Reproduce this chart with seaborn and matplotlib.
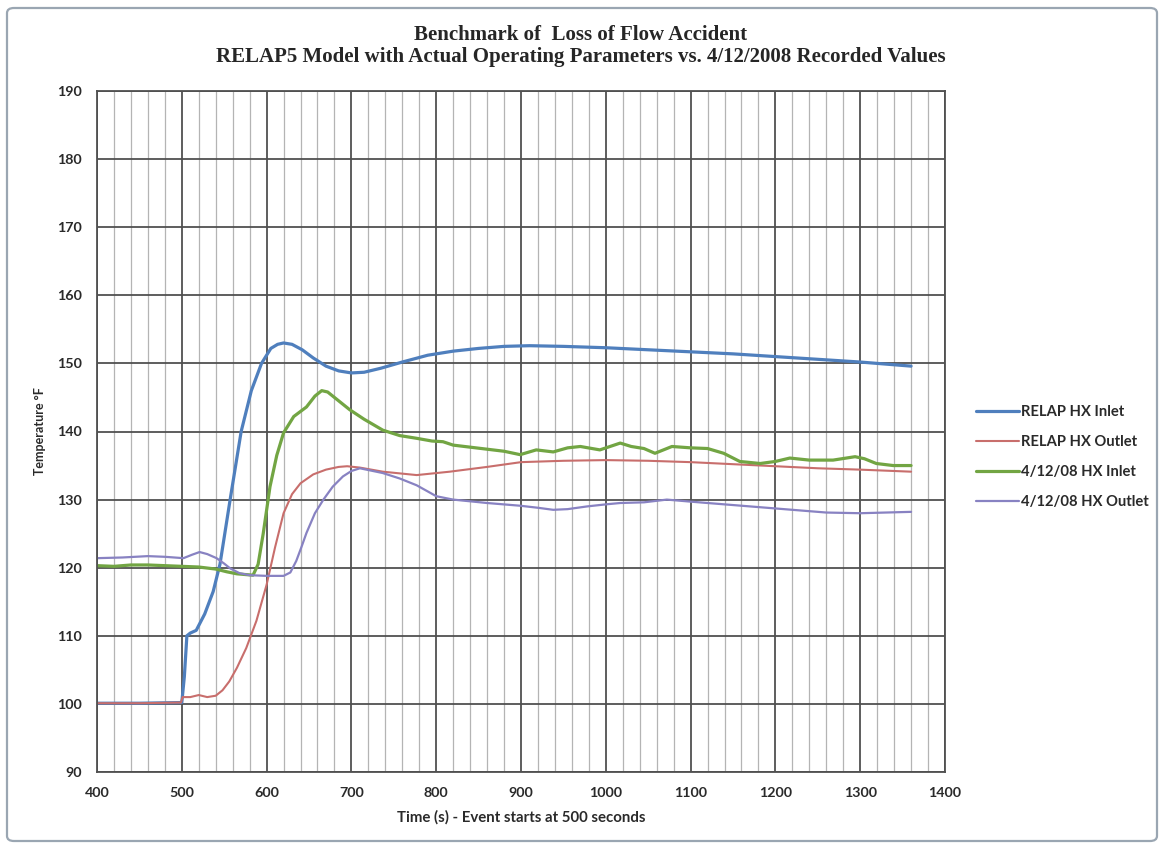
import numpy as np
import pandas as pd
import matplotlib.pyplot as plt
import seaborn as sns
from matplotlib.ticker import MultipleLocator
from matplotlib.patches import FancyBboxPatch

# RELAP HX Inlet
t_blue = [400, 450, 500, 503, 506, 510, 517, 527, 537, 545, 557, 570, 582, 594, 605, 613, 620,
          630, 642, 655, 670, 685, 700, 715, 735, 760, 790, 820, 850, 880, 910, 950, 1000, 1050,
          1100, 1150, 1200, 1250, 1300, 1360]
T_blue = [100.1, 100.1, 100.2, 104, 110, 110.4, 110.8, 113.2, 116.5, 120.5, 130, 140, 146, 150,
          152.2, 152.8, 153, 152.8, 152, 150.8, 149.6, 148.9, 148.6, 148.7, 149.3, 150.2, 151.2,
          151.8, 152.2, 152.5, 152.6, 152.5, 152.3, 152.0, 151.7, 151.4, 151.0, 150.6, 150.2, 149.6]

# RELAP HX Outlet
t_red = [400, 450, 499, 501, 510, 520, 530, 540, 548, 556, 565, 576, 588, 600, 610, 620, 630,
         640, 655, 670, 685, 695, 710, 737, 777, 816, 860, 900, 950, 1000, 1050, 1100, 1150,
         1200, 1250, 1300, 1360]
T_red = [100.1, 100.1, 100.2, 101.0, 101.0, 101.3, 101.0, 101.2, 102.0, 103.3, 105.3, 108.2,
         112.2, 117.5, 123.0, 128.0, 130.8, 132.4, 133.7, 134.4, 134.8, 134.9, 134.7, 134.1,
         133.6, 134.1, 134.8, 135.5, 135.7, 135.8, 135.7, 135.5, 135.2, 134.9, 134.6, 134.4, 134.1]

# 4/12/08 HX Inlet
t_green = [400, 420, 440, 460, 480, 500, 520, 540, 553, 565, 584, 590, 596, 604, 612, 620, 632,
           647, 657, 665, 672, 685, 698, 715, 737, 757, 777, 795, 808, 820, 840, 860, 880, 899,
           918, 938, 955, 970, 993, 1017, 1030, 1045, 1058, 1078, 1100, 1120, 1139, 1158, 1182,
           1200, 1217, 1240, 1268, 1294, 1305, 1319, 1339, 1360]
T_green = [120.3, 120.2, 120.4, 120.4, 120.3, 120.2, 120.1, 119.8, 119.4, 119.1, 118.9, 120.5,
           125, 131.9, 136.5, 139.8, 142.2, 143.6, 145.2, 146.0, 145.8, 144.5, 143.2, 141.8,
           140.2, 139.4, 139.0, 138.6, 138.5, 138.0, 137.7, 137.4, 137.1, 136.6, 137.3, 137.0,
           137.6, 137.8, 137.3, 138.3, 137.8, 137.5, 136.8, 137.8, 137.6, 137.5, 136.8, 135.6,
           135.3, 135.6, 136.1, 135.8, 135.8, 136.3, 136.0, 135.3, 135.0, 135.0]

# 4/12/08 HX Outlet
t_purple = [400, 430, 460, 480, 502, 512, 521, 530, 541, 550, 557, 568, 580, 600, 620, 628, 635,
            641, 647, 657, 667, 678, 690, 700, 710, 737, 757, 777, 790, 800, 820, 860, 899, 920,
            938, 955, 978, 1000, 1017, 1045, 1072, 1100, 1150, 1200, 1230, 1260, 1300, 1360]
T_purple = [121.4, 121.5, 121.7, 121.6, 121.4, 121.9, 122.3, 122.0, 121.4, 120.6, 119.9, 119.2,
            118.9, 118.8, 118.8, 119.3, 121.0, 123.0, 125.1, 128.0, 130.0, 131.9, 133.4, 134.2,
            134.6, 133.9, 133.1, 132.1, 131.2, 130.5, 130.0, 129.5, 129.1, 128.8, 128.5, 128.6,
            129.0, 129.3, 129.5, 129.6, 130.0, 129.7, 129.2, 128.7, 128.4, 128.1, 128.0, 128.2]

series = [
    ("RELAP HX Inlet", t_blue, T_blue, "#4f7fbd", 2.3),
    ("RELAP HX Outlet", t_red, T_red, "#c86e6c", 1.5),
    ("4/12/08 HX Inlet", t_green, T_green, "#72a543", 2.3),
    ("4/12/08 HX Outlet", t_purple, T_purple, "#8882c2", 1.6),
]

sns.set_style("white")
plt.rcParams['font.family'] = ['Lato', 'DejaVu Sans']

fig = plt.figure(figsize=(11.59, 8.47), dpi=100)
ax = fig.add_axes([97 / 1159, 1 - 772 / 847, (945 - 97) / 1159, (772 - 91) / 847])

for name, t, T, col, lw in series:
    df = pd.DataFrame({"t": t, "T": T})
    sns.lineplot(data=df, x="t", y="T", ax=ax, color=col, lw=lw, label=name,
                 estimator=None, sort=False)

ax.set_xlim(400, 1400)
ax.set_ylim(90, 190)
ax.xaxis.set_major_locator(MultipleLocator(100))
ax.xaxis.set_minor_locator(MultipleLocator(20))
ax.yaxis.set_major_locator(MultipleLocator(10))
ax.grid(which='major', color='#505050', lw=1.3, zorder=0)
ax.grid(which='minor', axis='x', color='#b4b4b4', lw=0.9, zorder=0)
ax.set_axisbelow(True)
for s in ax.spines.values():
    s.set_color('#505050')
    s.set_linewidth(1.3)
ax.tick_params(which='major', direction='out', length=5, color='#505050',
               labelsize=10.3, labelcolor='#2a2a2a', pad=6)
ax.tick_params(which='minor', length=0)
for lab in ax.get_xticklabels() + ax.get_yticklabels():
    lab.set_fontweight('bold')

ax.set_xlabel("Time (s) - Event starts at 500 seconds", fontsize=10.8, fontweight='bold',
              color='#2a2a2a', labelpad=8)
ax.set_ylabel("Temperature °F", fontsize=9, fontweight='bold', color='#2a2a2a', labelpad=8)

ax.legend_.remove()
handles, labels = ax.get_legend_handles_labels()
fig.legend(handles, labels, loc='center left', bbox_to_anchor=(976 / 1159, 1 - 457 / 847),
           frameon=False, prop={'weight': 'bold', 'size': 10.6},
           handlelength=2.9, handletextpad=0.15, labelspacing=1.1, borderpad=0,
           borderaxespad=0)
for txt in fig.legends[0].get_texts():
    txt.set_color('#2a2a2a')

fig.text(581 / 1159, 1 - 35 / 847, "Benchmark of  Loss of Flow Accident", ha='center', va='center',
         family='Liberation Serif', fontweight='bold', fontsize=15)
fig.text(581 / 1159, 1 - 57 / 847,
         "RELAP5 Model with Actual Operating Parameters vs. 4/12/2008 Recorded Values",
         ha='center', va='center', family='Liberation Serif', fontweight='bold', fontsize=15)

frame = FancyBboxPatch((7 / 1159, 6 / 847), 1150 / 1159, 833 / 847, boxstyle="round,pad=0,rounding_size=0.006",
                       transform=fig.transFigure, fill=False, edgecolor='#9aa6b2', lw=1.6)
fig.patches.append(frame)

fig.savefig("out.png", dpi=100)
